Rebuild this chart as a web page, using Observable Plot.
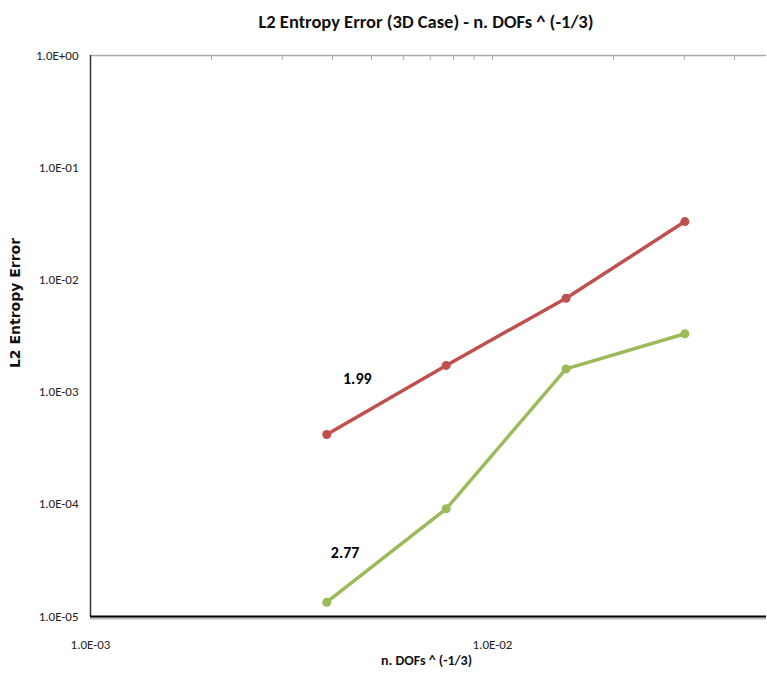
<!DOCTYPE html>
<html>
<head>
<meta charset="utf-8">
<script src="https://cdn.jsdelivr.net/npm/d3@7"></script>
<script src="https://cdn.jsdelivr.net/npm/@observablehq/plot@0.6"></script>
<style>
  body { margin: 0; background: #fff; font-family: Carlito, "Liberation Sans Narrow", "Liberation Sans", sans-serif; }
  #title { position: relative; width: 767px; height: 40px; }
  #title span { position: absolute; left: 426px; top: 21px; transform: translate(-50%, -50%);
    font-weight: bold; font-size: 18.5px; white-space: nowrap; color: #111; }
</style>
</head>
<body>
<div id="title"><span>L2 Entropy Error (3D Case) - n. DOFs ^ (-1/3)</span></div>
<div id="chart"></div>
<script>
// ---- data ----
const nDofs = [0.00387, 0.00767, 0.01524, 0.0301];
const errA = [4.19e-4, 1.73e-3, 6.87e-3, 3.31e-2];
const errB = [1.34e-5, 9.12e-5, 1.61e-3, 3.31e-3];
const seriesNames = ["Series A", "Series B"];
const seriesColors = ["#C0504D", "#9BBB59"];
const rateLabels = ["1.99", "2.77"];
const rateLabelX = [0.00461, 0.00430];
const rateLabelY = [1.32e-3, 3.72e-5];
const xTicks = [0.001, 0.01];
const xMinorTicks = [0.002, 0.003, 0.004, 0.005, 0.006, 0.007, 0.008, 0.009, 0.01, 0.02, 0.03, 0.04];
const yTicks = [1, 0.1, 0.01, 0.001, 0.0001, 0.00001];
const xDomain = [0.001, 0.04804];
const yDomain = [0.00001, 1];
const xTitle = "n. DOFs ^ (-1/3)";
const yTitle = "L2 Entropy Error";

const fmt = d => {
  const e = Math.round(Math.log10(d));
  return "1.0E" + (e < 0 ? "-" : "+") + String(Math.abs(e)).padStart(2, "0");
};

const rows = [];
nDofs.forEach((x, i) => {
  rows.push({series: seriesNames[0], x, y: errA[i]});
  rows.push({series: seriesNames[1], x, y: errB[i]});
});
const labels = rateLabels.map((t, i) => ({t, x: rateLabelX[i], y: rateLabelY[i]}));

const chart = Plot.plot({
  width: 767,
  height: 640,
  marginTop: 15,
  marginBottom: 64,
  marginLeft: 90,
  marginRight: 1,
  style: {fontFamily: 'Carlito, "Liberation Sans Narrow", "Liberation Sans", sans-serif', fontSize: "13px", background: "#fff", color: "#222"},
  x: {type: "log", domain: xDomain},
  y: {type: "log", domain: yDomain},
  color: {domain: seriesNames, range: seriesColors},
  marks: [
    Plot.ruleY([yDomain[1]], {stroke: "#aaa", strokeWidth: 1.5}),
    Plot.axisX(xMinorTicks, {anchor: "top", tickSize: -4, stroke: "#aaa", tickFormat: () => "", label: null}),
    Plot.ruleX([xDomain[0]], {stroke: "#333", strokeWidth: 1.5}),
    Plot.ruleY([yDomain[0]], {stroke: "#bbb", strokeWidth: 2, dy: 2}),
    Plot.ruleY([yDomain[0]], {stroke: "#000", strokeWidth: 2}),
    Plot.axisY(yTicks, {tickSize: 0, tickPadding: 12, tickFormat: fmt, label: null, fontSize: 13}),
    Plot.axisX(xTicks, {anchor: "bottom", tickSize: 0, tickPadding: 23, tickFormat: fmt, label: null, fontSize: 13}),
    Plot.text([xTitle], {frameAnchor: "bottom", dy: 48, dx: -2, text: d => d, fontWeight: "bold", fontSize: 14, fill: "#111"}),
    Plot.text([yTitle], {frameAnchor: "left", textAnchor: "middle", dx: -75, dy: -33, rotate: -90, text: d => d,
      fontFamily: '"DejaVu Sans", Verdana, sans-serif', fontWeight: "bold", fontSize: 14, fill: "#111"}),
    Plot.line(rows, {x: "x", y: "y", z: "series", stroke: "series", strokeWidth: 3.5}),
    Plot.dot(rows, {x: "x", y: "y", fill: "series", r: 4.5}),
    Plot.text(labels, {x: "x", y: "y", text: "t", fontWeight: "bold", fontSize: 16, fill: "#000"})
  ]
});
document.getElementById("chart").appendChild(chart);
</script>
</body>
</html>
